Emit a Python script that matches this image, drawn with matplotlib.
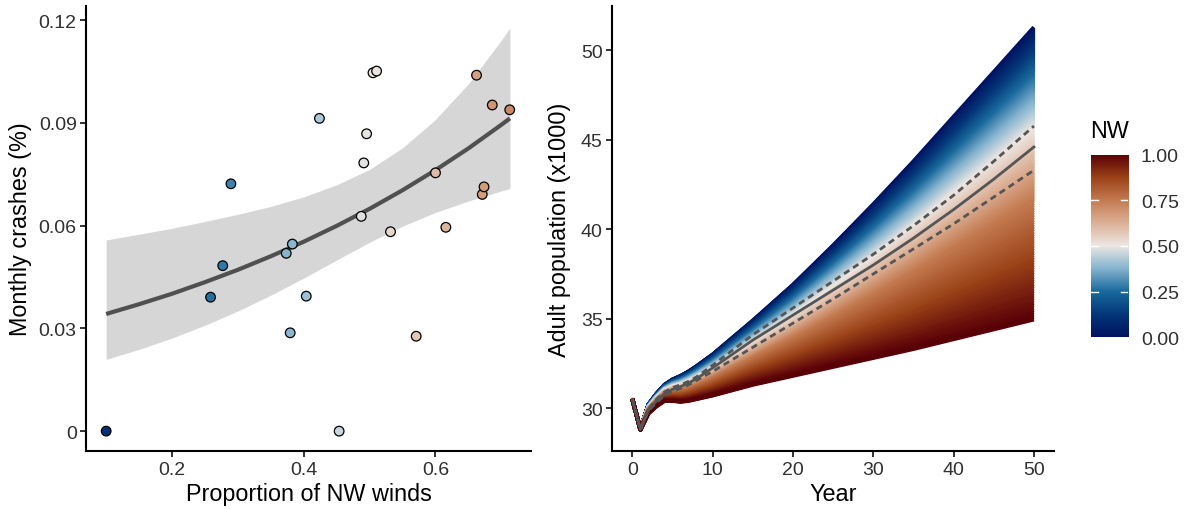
import numpy as np
import matplotlib
matplotlib.use("Agg")
import matplotlib.pyplot as plt
from matplotlib.colors import LinearSegmentedColormap

plt.rcParams['font.family'] = ['Liberation Sans', 'DejaVu Sans']

# ---------------- data: left panel ----------------
nw_prop = [0.100, 0.2585, 0.277, 0.2894, 0.3734, 0.3827, 0.3794, 0.4038, 0.4238,
           0.4537, 0.4873, 0.4911, 0.4954, 0.5051, 0.5106, 0.5317, 0.5707, 0.600,
           0.6157, 0.6623, 0.671, 0.6737, 0.6862, 0.7127]
crashes = [0.0, 0.0391, 0.0483, 0.0722, 0.0519, 0.0546, 0.0287, 0.0394, 0.0913,
           0.0, 0.0627, 0.0783, 0.0868, 0.1046, 0.1051, 0.0582, 0.0277, 0.0754,
           0.0595, 0.1039, 0.0691, 0.0713, 0.0952, 0.0938]

fit_x = [0.10, 0.15, 0.20, 0.25, 0.30, 0.35, 0.40, 0.45, 0.50, 0.55, 0.60, 0.65, 0.70, 0.713]
fit_y = [0.0342, 0.03705, 0.0401, 0.04349, 0.0471, 0.05105, 0.0553, 0.05992, 0.0649,
         0.07033, 0.0762, 0.08254, 0.08943, 0.0913]
fit_hi = [0.0558, 0.0575, 0.0592, 0.0612, 0.0633, 0.0656, 0.0684, 0.0719, 0.0764,
          0.0827, 0.0910, 0.1014, 0.1141, 0.1177]
fit_lo = [0.02095, 0.02387, 0.02718, 0.03091, 0.03507, 0.0397, 0.04469, 0.04996,
          0.05514, 0.05985, 0.06384, 0.06717, 0.07013, 0.07082]

# ---------------- data: right panel ----------------
years = [0, 1, 2, 3, 4, 5, 6, 7, 8, 10, 15, 20, 25, 30, 35, 40, 45, 50]
pop_nw0 = [30.5, 28.8, 30.2, 30.8, 31.3, 31.6, 31.8, 32.05, 32.35, 33.0, 34.9, 36.9,
           39.1, 41.4, 43.8, 46.3, 48.8, 51.3]
pop_nw1 = [30.5, 28.8, 29.7, 30.1, 30.4, 30.4, 30.35, 30.4, 30.5, 30.7, 31.3, 31.8,
           32.3, 32.8, 33.3, 33.85, 34.4, 34.95]
# relative position of intermediate NW curves between NW=0 (0) and NW=1 (1)
nw_anchor = [0.0, 0.25, 0.5, 0.75, 1.0]
nw_anchor_pos = [0.0, 0.165, 0.348, 0.593, 1.0]
pop_mean = [30.5, 28.8, 29.9, 30.4, 30.8, 31.05, 31.2, 31.4, 31.65, 32.25, 33.8, 35.2,
            36.6, 38.0, 39.5, 41.1, 42.8, 44.6]
pop_upper = [30.5, 28.8, 29.95, 30.5, 30.9, 31.15, 31.3, 31.5, 31.75, 32.4, 34.1, 35.6,
             37.1, 38.6, 40.2, 41.9, 43.8, 45.77]
pop_lower = [30.5, 28.8, 29.85, 30.3, 30.7, 30.95, 31.1, 31.3, 31.55, 32.05, 33.4, 34.75,
             36.1, 37.5, 38.9, 40.3, 41.8, 43.3]

cbar_ticks = [0.0, 0.25, 0.5, 0.75, 1.0]
cbar_labels = ["0.00", "0.25", "0.50", "0.75", "1.00"]

# vik-like diverging palette
vik = LinearSegmentedColormap.from_list("vik", [
    (0.0, '#001261'), (0.125, '#04387a'), (0.25, '#1a6a9e'), (0.375, '#85b4cf'),
    (0.5, '#ece7e3'), (0.625, '#dcb096'), (0.75, '#c47a50'), (0.875, '#9a4117'),
    (1.0, '#590007')])

TICK_C = '#303030'
TICK_FS = 14
TITLE_FS = 16.8
W, H = 1184, 510
fig = plt.figure(figsize=(W / 100, H / 100), dpi=100)

def style(ax):
    for s in ['top', 'right']:
        ax.spines[s].set_visible(False)
    for s in ['left', 'bottom']:
        ax.spines[s].set_linewidth(1.5)
        ax.spines[s].set_color('black')
    ax.tick_params(axis='both', direction='out', length=4.5, width=1.3, color='#222222',
                   labelsize=TICK_FS, labelcolor=TICK_C, pad=2.5)

# ---------------- left panel ----------------
ax1 = fig.add_axes([86.4 / W, (H - 452) / H, (531 - 86.4) / W, (452 - 7) / H])
ax1.fill_between(fit_x, fit_lo, fit_hi, color='#d6d6d6', lw=0, zorder=1)
ax1.plot(fit_x, fit_y, color='#505050', lw=3, solid_capstyle='butt', zorder=2)
ax1.scatter(nw_prop, crashes, c=nw_prop, cmap=vik, vmin=0, vmax=1, s=48,
            edgecolors='black', linewidths=0.9, zorder=3)
ax1.set_xlim(0.070, 0.745)
ax1.set_ylim(-0.0058, 0.1241)
ax1.set_xticks([0.2, 0.4, 0.6])
ax1.set_xticklabels(["0.2", "0.4", "0.6"])
ax1.set_yticks([0, 0.03, 0.06, 0.09, 0.12])
ax1.set_yticklabels(["0", "0.03", "0.06", "0.09", "0.12"])
ax1.set_xlabel("Proportion of NW winds", fontsize=TITLE_FS, labelpad=3)
ax1.set_ylabel("Monthly crashes (%)", fontsize=TITLE_FS, labelpad=5)
style(ax1)

# ---------------- right panel ----------------
ax2 = fig.add_axes([612.3 / W, (H - 452) / H, (1054 - 612.3) / W, (452 - 6.7) / H])
top = np.array(pop_nw0)
bot = np.array(pop_nw1)
nws = np.linspace(0, 1, 201)
for nw in nws:
    pos = np.interp(nw, nw_anchor, nw_anchor_pos)
    ax2.plot(years, top + pos * (bot - top), color=vik(nw), lw=2.8,
             solid_capstyle='butt', solid_joinstyle='round', zorder=1)
ax2.plot(years, pop_mean, color='#555555', lw=2.0, solid_joinstyle='round', zorder=3)
ax2.plot(years, pop_upper, color='#555555', lw=2.0, dashes=(2.3, 1.6), zorder=3)
ax2.plot(years, pop_lower, color='#555555', lw=2.0, dashes=(2.3, 1.6), zorder=3)
ax2.set_xlim(-2.5, 52.5)
ax2.set_ylim(27.6, 52.5)
ax2.set_xticks([0, 10, 20, 30, 40, 50])
ax2.set_yticks([30, 35, 40, 45, 50])
ax2.set_xlabel("Year", fontsize=TITLE_FS, labelpad=3)
ax2.set_ylabel("Adult population (x1000)", fontsize=TITLE_FS, labelpad=7)
style(ax2)

# ---------------- colorbar ----------------
cax = fig.add_axes([1091 / W, (H - 338.3) / H, (1128.3 - 1091) / W, (338.3 - 155.7) / H])
grad = np.linspace(0, 1, 256).reshape(-1, 1)
cax.imshow(grad, cmap=vik, origin='lower', aspect='auto', extent=[0, 1, 0, 1])
for t in [0.25, 0.5, 0.75]:
    cax.plot([0, 0.2], [t, t], color='white', lw=1)
    cax.plot([0.8, 1], [t, t], color='white', lw=1)
cax.set_xlim(0, 1)
cax.set_ylim(0, 1)
cax.set_xticks([])
cax.yaxis.tick_right()
cax.set_yticks(cbar_ticks)
cax.set_yticklabels(cbar_labels)
cax.tick_params(axis='y', length=0, pad=9, labelsize=TICK_FS, labelcolor=TICK_C)
for s in cax.spines.values():
    s.set_visible(False)
fig.text(1090 / W, (H - 132) / H, "NW", fontsize=TITLE_FS, ha='left', va='center')

fig.savefig("out.png", dpi=100)
